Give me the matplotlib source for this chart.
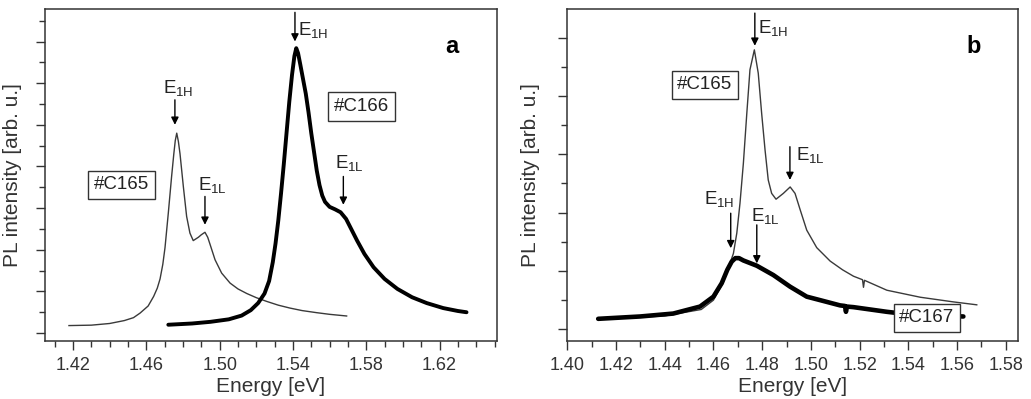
import matplotlib
matplotlib.use("Agg")
import matplotlib.pyplot as plt
from matplotlib.ticker import MultipleLocator, FixedLocator, NullFormatter, FuncFormatter

plt.rcParams['font.family'] = ['Liberation Sans', 'DejaVu Sans']
plt.rcParams['mathtext.fontset'] = 'custom'
plt.rcParams['mathtext.rm'] = 'Liberation Sans'
plt.rcParams['mathtext.default'] = 'regular'

# ---------------- Panel a data ----------------
a_c165_x = [1.4178, 1.4300, 1.4400, 1.4480, 1.4530, 1.4566, 1.4610, 1.4640, 1.4660, 1.4675,
            1.4690, 1.4702, 1.4720, 1.4738, 1.4750, 1.4758, 1.4766, 1.4775, 1.4784, 1.4802,
            1.4820, 1.4838, 1.4856, 1.4870, 1.4884, 1.4900, 1.4920, 1.4935, 1.4947, 1.4975,
            1.5011, 1.5057, 1.5100, 1.5148, 1.5200, 1.5257, 1.5320, 1.5384, 1.5450, 1.5529,
            1.5600, 1.5693]
a_c165_y = [0.18, 0.19, 0.23, 0.30, 0.37, 0.48, 0.65, 0.88, 1.08, 1.30,
            1.65, 2.05, 2.88, 3.76, 4.30, 4.62, 4.80, 4.60, 4.30, 3.52,
            2.80, 2.40, 2.22, 2.26, 2.30, 2.36, 2.42, 2.30, 2.14, 1.76,
            1.44, 1.20, 1.06, 0.95, 0.85, 0.76, 0.67, 0.60, 0.54, 0.49,
            0.45, 0.41]

a_c166_x = [1.4720, 1.4850, 1.4950, 1.5050, 1.5120, 1.5170, 1.5210, 1.5245, 1.5270, 1.5290,
            1.5305, 1.5320, 1.5335, 1.5350, 1.5365, 1.5380, 1.5395, 1.5408, 1.5418, 1.5428,
            1.5440, 1.5455, 1.5470, 1.5485, 1.5500, 1.5515, 1.5530, 1.5545, 1.5560, 1.5575,
            1.5600, 1.5630, 1.5660, 1.5690, 1.5720, 1.5750, 1.5790, 1.5840, 1.5900, 1.5970,
            1.6050, 1.6130, 1.6220, 1.6300, 1.6347]
a_c166_y = [0.20, 0.23, 0.27, 0.33, 0.42, 0.55, 0.72, 0.95, 1.25, 1.70,
            2.15, 2.70, 3.35, 4.05, 4.80, 5.55, 6.20, 6.65, 6.84, 6.72,
            6.45, 6.10, 5.75, 5.30, 4.80, 4.35, 3.90, 3.55, 3.30, 3.15,
            3.03, 2.97, 2.90, 2.74, 2.48, 2.22, 1.90, 1.58, 1.30, 1.06,
            0.86, 0.72, 0.60, 0.53, 0.50]

# ---------------- Panel b data ----------------
b_c165_x = [1.4180, 1.4400, 1.4550, 1.4600, 1.4640, 1.4682, 1.4696, 1.4709, 1.4723, 1.4737,
            1.4750, 1.4768, 1.4784, 1.4798, 1.4812, 1.4825, 1.4839, 1.4857, 1.4887, 1.4915,
            1.4935, 1.4956, 1.4983, 1.5024, 1.5079, 1.5130, 1.5175, 1.5212, 1.5216, 1.5220,
            1.5312, 1.5449, 1.5585, 1.5681]
b_c165_y = [0.18, 0.23, 0.34, 0.50, 0.80, 1.30, 1.65, 2.16, 2.85, 3.70,
            4.45, 4.79, 4.39, 3.70, 3.07, 2.56, 2.33, 2.23, 2.33, 2.44,
            2.33, 2.05, 1.70, 1.40, 1.17, 1.02, 0.91, 0.85, 0.72, 0.84,
            0.67, 0.55, 0.47, 0.42]

b_c167_x = [1.4127, 1.4299, 1.4435, 1.4545, 1.4600, 1.4634, 1.4657, 1.4675, 1.4690, 1.4705,
            1.4723, 1.4778, 1.4846, 1.4915, 1.4983, 1.5038, 1.5120, 1.5140, 1.5144, 1.5148,
            1.5175, 1.5312, 1.5353, 1.5450, 1.5560, 1.5626]
b_c167_y = [0.18, 0.22, 0.27, 0.39, 0.56, 0.79, 1.02, 1.16, 1.22, 1.22,
            1.18, 1.09, 0.93, 0.73, 0.56, 0.50, 0.41, 0.40, 0.30, 0.39,
            0.38, 0.30, 0.28, 0.25, 0.23, 0.22]

a_xticks = [1.42, 1.46, 1.50, 1.54, 1.58, 1.62]
b_xticks = [1.40, 1.42, 1.44, 1.46, 1.48, 1.50, 1.52, 1.54, 1.56, 1.58]

x_label = "Energy [eV]"
y_label = "PL intensity [arb. u.]"

txt_col = '#222222'
ax_col = '#333333'
fig = plt.figure(figsize=(10.31, 3.99), dpi=100)
axa = fig.add_axes([0.0436, 0.1454, 0.4384, 0.832])
axb = fig.add_axes([0.5502, 0.1454, 0.4369, 0.832])

axa.plot(a_c165_x, a_c165_y, color='#3a3a3a', lw=1.0)
axa.plot(a_c166_x, a_c166_y, color='black', lw=2.8, solid_joinstyle='round', solid_capstyle='round')
axa.set_xlim(1.4047, 1.6513)
axa.set_ylim(-0.19, 7.78)
axa.xaxis.set_major_locator(FixedLocator(a_xticks))
axa.xaxis.set_minor_locator(MultipleLocator(0.01))

axb.plot(b_c165_x, b_c165_y, color='#3a3a3a', lw=1.0)
axb.plot(b_c167_x, b_c167_y, color='black', lw=3.3, solid_joinstyle='round', solid_capstyle='round')
axb.set_xlim(1.40, 1.5849)
axb.set_ylim(-0.2, 5.49)
axb.xaxis.set_major_locator(FixedLocator(b_xticks))
axb.xaxis.set_minor_locator(MultipleLocator(0.01))

for ax, lx in ((axa, -0.051), (axb, -0.060)):
    ax.yaxis.set_major_locator(MultipleLocator(1.0))
    ax.yaxis.set_minor_locator(MultipleLocator(0.5))
    ax.xaxis.set_major_formatter(FuncFormatter(lambda v, p: '{:.2f}'.format(v)))
    ax.yaxis.set_major_formatter(NullFormatter())
    ax.tick_params(axis='both', which='major', direction='out', length=6.5, width=1.0,
                   labelsize=13, colors=ax_col, labelcolor=ax_col, pad=5)
    ax.tick_params(axis='both', which='minor', direction='out', length=4, width=1.0, colors=ax_col)
    ax.tick_params(top=False, right=False)
    for s in ax.spines.values():
        s.set_color(ax_col)
        s.set_linewidth(1.1)
    ax.set_xlabel(x_label, fontsize=15, color=ax_col, labelpad=2)
    ax.set_ylabel(y_label, fontsize=15, color=ax_col)
    ax.yaxis.set_label_coords(lx, 0.5)

arrow_kw = dict(arrowstyle='-|>', color='black', lw=1.0, mutation_scale=11, shrinkA=0, shrinkB=0)
fs = 13.5
box = dict(boxstyle='square,pad=0.3', fc='white', ec=ax_col, lw=1.0)

# Panel a annotations
axa.annotate('', xy=(1.5411, 7.0), xytext=(1.5411, 7.70), arrowprops=arrow_kw)
axa.text(1.5430, 7.28, r'E$_{1H}$', fontsize=fs, color=txt_col, ha='left', va='center')
axa.annotate('', xy=(1.4756, 5.0), xytext=(1.4756, 5.6), arrowprops=arrow_kw)
axa.text(1.4775, 5.88, r'E$_{1H}$', fontsize=fs, color=txt_col, ha='center', va='center')
axa.annotate('', xy=(1.4920, 2.6), xytext=(1.4920, 3.28), arrowprops=arrow_kw)
axa.text(1.4962, 3.56, r'E$_{1L}$', fontsize=fs, color=txt_col, ha='center', va='center')
axa.annotate('', xy=(1.5675, 3.08), xytext=(1.5675, 3.76), arrowprops=arrow_kw)
axa.text(1.5710, 4.08, r'E$_{1L}$', fontsize=fs, color=txt_col, ha='center', va='center')
axa.text(1.4465, 3.56, '#C165', fontsize=13.5, color=txt_col, ha='center', va='center', bbox=box)
axa.text(1.5775, 5.44, '#C166', fontsize=13.5, color=txt_col, ha='center', va='center', bbox=box)
axa.text(1.6265, 6.88, 'a', fontsize=17, fontweight='bold', color='black', ha='center', va='center')

# Panel b annotations
axb.annotate('', xy=(1.4770, 4.86), xytext=(1.4770, 5.42), arrowprops=arrow_kw)
axb.text(1.4785, 5.16, r'E$_{1H}$', fontsize=fs, color=txt_col, ha='left', va='center')
axb.annotate('', xy=(1.4914, 2.56), xytext=(1.4914, 3.13), arrowprops=arrow_kw)
axb.text(1.4997, 2.99, r'E$_{1L}$', fontsize=fs, color=txt_col, ha='center', va='center')
axb.annotate('', xy=(1.4671, 1.39), xytext=(1.4671, 1.99), arrowprops=arrow_kw)
axb.text(1.4624, 2.24, r'E$_{1H}$', fontsize=fs, color=txt_col, ha='center', va='center')
axb.annotate('', xy=(1.4778, 1.13), xytext=(1.4778, 1.79), arrowprops=arrow_kw)
axb.text(1.4812, 1.95, r'E$_{1L}$', fontsize=fs, color=txt_col, ha='center', va='center')
axb.text(1.4565, 4.19, '#C165', fontsize=13.5, color=txt_col, ha='center', va='center', bbox=box)
axb.text(1.5476, 0.20, '#C167', fontsize=13.5, color=txt_col, ha='center', va='center', bbox=box, zorder=5)
axb.text(1.5667, 4.85, 'b', fontsize=17, fontweight='bold', color='black', ha='center', va='center')

fig.savefig('out.png', dpi=100)
